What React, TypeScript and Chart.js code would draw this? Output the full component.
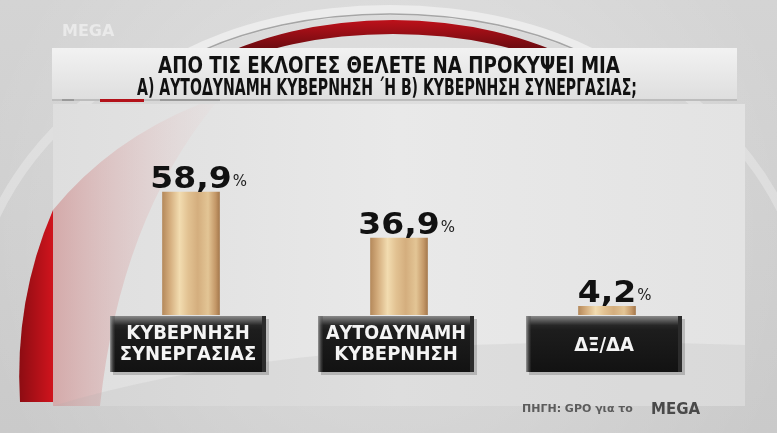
import React, { useEffect, useRef } from "react";
import { Chart, registerables } from "chart.js";

Chart.register(...registerables);

const categories: string[][] = [
  ["ΚΥΒΕΡΝΗΣΗ", "ΣΥΝΕΡΓΑΣΙΑΣ"],
  ["ΑΥΤΟΔΥΝΑΜΗ", "ΚΥΒΕΡΝΗΣΗ"],
  ["ΔΞ/ΔΑ"],
];
const values: number[] = [58.9, 36.9, 4.2];
const valueLabels: string[] = ["58,9", "36,9", "4,2"];
const titleLines: string[] = [
  "ΑΠΟ ΤΙΣ ΕΚΛΟΓΕΣ ΘΕΛΕΤΕ ΝΑ ΠΡΟΚΥΨΕΙ ΜΙΑ",
  "Α) ΑΥΤΟΔΥΝΑΜΗ ΚΥΒΕΡΝΗΣΗ ΄Η Β) ΚΥΒΕΡΝΗΣΗ ΣΥΝΕΡΓΑΣΙΑΣ;",
];
const sourceText = "ΠΗΓΗ: GPO για το";
const logoText = "MEGA";

const COND = '"DejaVu Sans Condensed", "DejaVu Sans", sans-serif';

function bandPath(
  ctx: CanvasRenderingContext2D,
  cx: number,
  cy: number,
  rx1: number,
  ry1: number,
  rx2: number,
  ry2: number
) {
  ctx.beginPath();
  ctx.ellipse(cx, cy, rx1, ry1, 0, Math.PI, 2 * Math.PI, false);
  ctx.ellipse(cx, cy, rx2, ry2, 0, 2 * Math.PI, Math.PI, true);
  ctx.closePath();
}

const backgroundPlugin = {
  id: "tvBackground",
  beforeDraw(chart: any) {
    const ctx: CanvasRenderingContext2D = chart.ctx;
    const W = chart.width;
    const H = chart.height;
    ctx.save();
    // base
    const bg = ctx.createLinearGradient(0, 0, 0, H);
    bg.addColorStop(0, "#d4d4d4");
    bg.addColorStop(1, "#cacaca");
    ctx.fillStyle = bg;
    ctx.fillRect(0, 0, W, H);
    const glow = ctx.createRadialGradient(390, 230, 40, 390, 230, 420);
    glow.addColorStop(0, "rgba(255,255,255,0.35)");
    glow.addColorStop(1, "rgba(255,255,255,0)");
    ctx.fillStyle = glow;
    ctx.fillRect(0, 0, W, H);

    // faint large outer rings
    ctx.save();
    ctx.strokeStyle = "rgba(238,238,238,0.45)";
    ctx.lineWidth = 9;
    ctx.beginPath();
    ctx.ellipse(390, 330, 420, 330, 0, Math.PI * 1.05, Math.PI * 1.3);
    ctx.stroke();
    ctx.beginPath();
    ctx.ellipse(390, 330, 420, 330, 0, Math.PI * 1.7, Math.PI * 1.95);
    ctx.stroke();
    ctx.restore();

    // top arcs
    ctx.save();
    ctx.beginPath();
    ctx.rect(0, 0, W, 49);
    ctx.clip();
    bandPath(ctx, 390, 172, 302, 167, 292, 157);
    ctx.fillStyle = "#ececec";
    ctx.fill();
    ctx.beginPath();
    ctx.ellipse(390, 172, 293, 158, 0, Math.PI, 2 * Math.PI);
    ctx.lineWidth = 1.5;
    ctx.strokeStyle = "#a5a5a5";
    ctx.stroke();
    bandPath(ctx, 393, 170, 265, 150, 262, 136);
    const rg = ctx.createLinearGradient(0, 18, 0, 48);
    rg.addColorStop(0, "#c3111b");
    rg.addColorStop(1, "#6e0b10");
    ctx.fillStyle = rg;
    ctx.fill();
    ctx.restore();

    // title band
    const tb = ctx.createLinearGradient(0, 48, 0, 100);
    tb.addColorStop(0, "#f2f2f2");
    tb.addColorStop(1, "#dedede");
    ctx.fillStyle = tb;
    ctx.fillRect(52, 48, 685, 52);
    ctx.fillStyle = "#bdbdbd";
    ctx.fillRect(52, 99, 685, 2);
    ctx.fillStyle = "#b3121a";
    ctx.fillRect(100, 99, 44, 3);
    ctx.fillStyle = "#9a9a9a";
    ctx.fillRect(62, 99, 12, 2);
    ctx.fillRect(160, 99, 60, 2);

    // panel
    const pg = ctx.createLinearGradient(53, 0, 745, 0);
    pg.addColorStop(0, "#dedede");
    pg.addColorStop(0.5, "#e9e9e9");
    pg.addColorStop(1, "#e3e3e3");
    ctx.fillStyle = pg;
    ctx.fillRect(53, 104, 692, 302);
    // pink tint on left
    ctx.save();
    ctx.beginPath();
    ctx.moveTo(53, 210);
    ctx.quadraticCurveTo(110, 140, 200, 104);
    ctx.lineTo(215, 104);
    ctx.quadraticCurveTo(120, 220, 100, 406);
    ctx.lineTo(53, 406);
    ctx.closePath();
    const pk = ctx.createLinearGradient(53, 0, 215, 0);
    pk.addColorStop(0, "rgba(205,135,135,0.6)");
    pk.addColorStop(1, "rgba(235,205,205,0.1)");
    ctx.fillStyle = pk;
    ctx.fill();
    ctx.restore();
    // lower gray swoosh
    ctx.beginPath();
    ctx.moveTo(53, 406);
    ctx.quadraticCurveTo(300, 330, 745, 345);
    ctx.lineTo(745, 406);
    ctx.closePath();
    ctx.fillStyle = "rgba(170,170,170,0.18)";
    ctx.fill();

    // red crescent on left
    ctx.beginPath();
    ctx.moveTo(53, 210);
    ctx.quadraticCurveTo(14, 300, 20, 402);
    ctx.lineTo(53, 402);
    ctx.closePath();
    const cg = ctx.createLinearGradient(18, 0, 53, 0);
    cg.addColorStop(0, "#8a0c12");
    cg.addColorStop(1, "#d0141d");
    ctx.fillStyle = cg;
    ctx.fill();

    // top-left logo
    ctx.save();
    ctx.font = 'bold 16px "DejaVu Sans", sans-serif';
    ctx.fillStyle = "rgba(240,240,240,0.75)";
    ctx.textBaseline = "alphabetic";
    ctx.textAlign = "left";
    ctx.fillText(logoText, 62, 36, 86);
    ctx.restore();

    // title
    ctx.fillStyle = "#111";
    ctx.textAlign = "center";
    ctx.textBaseline = "alphabetic";
    ctx.font = "bold 23px " + COND;
    ctx.fillText(titleLines[0], 389, 73, 462);
    ctx.fillText(titleLines[1], 387, 95, 500);

    // source
    ctx.textAlign = "left";
    ctx.font = 'bold 11px "DejaVu Sans", sans-serif';
    ctx.fillStyle = "#5c5c5c";
    ctx.fillText(sourceText, 522, 412, 118);
    ctx.font = 'bold 15px "DejaVu Sans", sans-serif';
    ctx.fillStyle = "#4a4a4a";
    ctx.fillText(logoText, 651, 414, 77);
    ctx.restore();
  },
  afterDatasetsDraw(chart: any) {
    const ctx: CanvasRenderingContext2D = chart.ctx;
    const meta = chart.getDatasetMeta(0);
    ctx.save();
    meta.data.forEach((bar: any, i: number) => {
      const cx = bar.x;
      const base = bar.base;
      const bw = 156;
      const x0 = cx - bw / 2 - 3;
      const y0 = base + 1;
      const bh = 56;
      // shadow
      ctx.fillStyle = "rgba(0,0,0,0.18)";
      ctx.fillRect(x0 + 3, y0 + 3, bw, bh);
      // body
      const bodyG = ctx.createLinearGradient(0, y0, 0, y0 + bh);
      bodyG.addColorStop(0, "#3a3a3a");
      bodyG.addColorStop(0.25, "#1d1d1d");
      bodyG.addColorStop(1, "#121212");
      ctx.fillStyle = bodyG;
      ctx.fillRect(x0, y0, bw, bh);
      // top bevel
      const topG = ctx.createLinearGradient(0, y0, 0, y0 + 9);
      topG.addColorStop(0, "#8a8a8a");
      topG.addColorStop(1, "#2a2a2a");
      ctx.fillStyle = topG;
      ctx.fillRect(x0, y0, bw, 9);
      // left edge
      const leftG = ctx.createLinearGradient(x0, 0, x0 + 5, 0);
      leftG.addColorStop(0, "#9a9a9a");
      leftG.addColorStop(1, "rgba(60,60,60,0.2)");
      ctx.fillStyle = leftG;
      ctx.fillRect(x0, y0, 5, bh);
      // right edge
      ctx.fillStyle = "#2c2c2c";
      ctx.fillRect(x0 + bw - 4, y0, 4, bh);

      // category text
      ctx.fillStyle = "#f4f4f4";
      ctx.textAlign = "center";
      ctx.textBaseline = "middle";
      ctx.font = "bold 20px " + COND;
      const lines = categories[i];
      const tx = cx - 3;
      if (lines.length === 1) {
        ctx.fillText(lines[0], tx, y0 + 30, 140);
      } else {
        ctx.fillText(lines[0], tx, y0 + 18, 140);
        ctx.fillText(lines[1], tx, y0 + 39, 140);
      }

      // value label (slightly stretched, squared look)
      ctx.textBaseline = "alphabetic";
      ctx.fillStyle = "#111";
      ctx.font = 'bold 30px "DejaVu Sans", sans-serif';
      ctx.textAlign = "center";
      const label = valueLabels[i];
      const sx = 1.1;
      const nw = ctx.measureText(label).width * sx;
      ctx.save();
      ctx.translate(cx, bar.y - 4);
      ctx.scale(sx, 1);
      ctx.fillText(label, 0, 0);
      ctx.restore();
      ctx.font = '15px "DejaVu Sans", sans-serif';
      ctx.fillStyle = "#222";
      ctx.textAlign = "left";
      ctx.fillText("%", cx + nw / 2 + 1, bar.y - 6);
    });
    ctx.restore();
  },
};

function barGradient(context: any) {
  const chart = context.chart;
  const xs = chart.scales && chart.scales.x;
  if (!chart.chartArea || !xs) return "#d9b383";
  const cx = xs.getPixelForValue(context.dataIndex);
  const w = 57;
  const g = chart.ctx.createLinearGradient(cx - w / 2, 0, cx + w / 2, 0);
  g.addColorStop(0, "#b58a5c");
  g.addColorStop(0.12, "#d2aa7a");
  g.addColorStop(0.3, "#f2dcb0");
  g.addColorStop(0.45, "#e2c292");
  g.addColorStop(0.62, "#d4ae7e");
  g.addColorStop(0.8, "#e3c595");
  g.addColorStop(0.93, "#c49868");
  g.addColorStop(1, "#a67a4e");
  return g;
}

export default function App() {
  const ref = useRef<HTMLCanvasElement | null>(null);
  useEffect(() => {
    if (!ref.current) return;
    const chart = new Chart(ref.current, {
      type: "bar",
      data: {
        labels: categories.map((c) => c.join(" ")),
        datasets: [
          {
            data: values,
            backgroundColor: barGradient,
            borderWidth: 0,
            barThickness: 57,
          },
        ],
      },
      options: {
        responsive: false,
        animation: false,
        layout: { padding: { left: 87, right: 66, top: 148, bottom: 118 } },
        plugins: {
          legend: { display: false },
          tooltip: { enabled: false },
          title: { display: false },
        },
        scales: {
          x: { display: false },
          y: { display: false, min: 0, max: 80 },
        },
      },
      plugins: [backgroundPlugin],
    });
    return () => chart.destroy();
  }, []);
  return (
    <div style={{ position: "fixed", left: 0, top: 0, width: 777, height: 433 }}>
      <canvas ref={ref} width={777} height={433} style={{ display: "block" }} />
    </div>
  );
}
